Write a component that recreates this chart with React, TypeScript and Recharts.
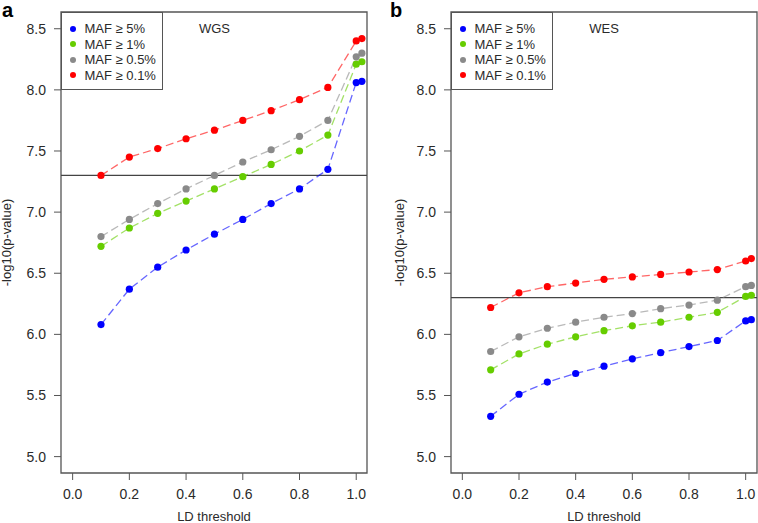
import React from 'react';
import { LineChart, Line, XAxis, YAxis, ReferenceLine, ReferenceArea, ReferenceDot, Legend, Label } from 'recharts';

const ldThreshold = [0.1, 0.2, 0.3, 0.4, 0.5, 0.6, 0.7, 0.8, 0.9, 1.0, 1.02];

const wgsMaf5 = [6.08, 6.37, 6.55, 6.69, 6.82, 6.94, 7.07, 7.19, 7.35, 8.06, 8.07];
const wgsMaf1 = [6.72, 6.87, 6.99, 7.09, 7.19, 7.29, 7.39, 7.5, 7.63, 8.21, 8.23];
const wgsMaf05 = [6.8, 6.94, 7.07, 7.19, 7.3, 7.41, 7.51, 7.62, 7.75, 8.27, 8.3];
const wgsMaf01 = [7.3, 7.45, 7.52, 7.6, 7.67, 7.75, 7.83, 7.92, 8.02, 8.4, 8.42];

const wesMaf5 = [5.33, 5.51, 5.61, 5.68, 5.74, 5.8, 5.85, 5.9, 5.95, 6.11, 6.12];
const wesMaf1 = [5.71, 5.84, 5.92, 5.98, 6.03, 6.07, 6.1, 6.14, 6.18, 6.31, 6.32];
const wesMaf05 = [5.86, 5.98, 6.05, 6.1, 6.14, 6.17, 6.21, 6.24, 6.28, 6.39, 6.4];
const wesMaf01 = [6.22, 6.34, 6.39, 6.42, 6.45, 6.47, 6.49, 6.51, 6.53, 6.6, 6.62];

const seriesKeys = ['maf5', 'maf1', 'maf05', 'maf01'];
const seriesNames = ['MAF ≥ 5%', 'MAF ≥ 1%', 'MAF ≥ 0.5%', 'MAF ≥ 0.1%'];
const seriesColors = ['#0000ff', '#66cd00', '#8a8a8a', '#ff0000'];

const xTicks = [0, 0.2, 0.4, 0.6, 0.8, 1.0];
const yTicks = [5, 5.5, 6, 6.5, 7, 7.5, 8, 8.5];

const panelLetters = ['a', 'b'];
const panelTitles = ['WGS', 'WES'];
const thresholds = [7.3, 6.3];
const xLabel = 'LD threshold';
const yLabel = '-log10(p-value)';

const FONT = '"Liberation Sans", Arial, Helvetica, sans-serif';
const TEXT = '#2a2a2a';
const AXIS = '#555';

const yDomain = [4.866, 8.637];

function buildRows(a: number[], b: number[], c: number[], d: number[]) {
  return ldThreshold.map((x, i) => ({ x, maf5: a[i], maf1: b[i], maf05: c[i], maf01: d[i] }));
}

const wgsRows = buildRows(wgsMaf5, wgsMaf1, wgsMaf05, wgsMaf01);
const wesRows = buildRows(wesMaf5, wesMaf1, wesMaf05, wesMaf01);

const LegendBox = () => (
  <div
    style={{
      border: `1px solid ${AXIS}`,
      background: '#fff',
      width: 102,
      height: 78,
      boxSizing: 'border-box',
      paddingTop: 8,
      fontFamily: FONT,
      fontSize: 13,
      color: TEXT,
    }}
  >
    {seriesNames.map((n, i) => (
      <div key={n} style={{ display: 'flex', alignItems: 'center', height: 15.5, whiteSpace: 'nowrap' }}>
        <span
          style={{
            display: 'inline-block',
            width: 6,
            height: 6,
            borderRadius: 3,
            background: seriesColors[i],
            marginLeft: 8,
            marginRight: 8.5,
          }}
        />
        <span>{n}</span>
      </div>
    ))}
  </div>
);

type PanelProps = {
  rows: any[];
  width: number;
  yAxisWidth: number;
  marginRight: number;
  xDomain: number[];
  title: string;
  threshold: number;
  yLabelX: number;
};

function Panel({ rows, width, yAxisWidth, marginRight, xDomain, title, threshold, yLabelX }: PanelProps) {
  return (
    <LineChart
      width={width}
      height={523}
      data={rows}
      margin={{ top: 12, right: marginRight, bottom: 0, left: 0 }}
    >
      <XAxis
        type="number"
        dataKey="x"
        domain={xDomain}
        ticks={xTicks}
        allowDataOverflow
        axisLine={false}
        tickSize={7}
        tickMargin={9}
        height={50}
        stroke={AXIS}
        tick={{ fill: TEXT, fontSize: 14, fontFamily: FONT }}
        tickFormatter={(v: number) => v.toFixed(1)}
        interval={0}
      >
        <Label
          content={(p: any) => {
            const vb = p.viewBox || {};
            return (
              <text x={vb.x + vb.width / 2} y={521} textAnchor="middle" fontSize={13} fontFamily={FONT} fill={TEXT}>
                {xLabel}
              </text>
            );
          }}
        />
      </XAxis>
      <YAxis
        type="number"
        domain={yDomain}
        ticks={yTicks}
        allowDataOverflow
        axisLine={false}
        width={yAxisWidth}
        tickSize={7}
        tickMargin={8}
        stroke={AXIS}
        tick={{ fill: TEXT, fontSize: 14, fontFamily: FONT }}
        tickFormatter={(v: number) => v.toFixed(1)}
        interval={0}
      >
        <Label
          content={(p: any) => {
            const vb = p.viewBox || {};
            const cy = vb.y + vb.height / 2;
            return (
              <text
                x={yLabelX}
                y={cy}
                transform={`rotate(-90, ${yLabelX}, ${cy})`}
                textAnchor="middle"
                dominantBaseline="central"
                fontSize={13}
                fontFamily={FONT}
                fill={TEXT}
              >
                {yLabel}
              </text>
            );
          }}
        />
      </YAxis>
      <ReferenceLine y={threshold} stroke="#444" strokeWidth={1.2} ifOverflow="visible" />
      {seriesKeys.map((k, i) => (
        <Line
          key={k}
          type="linear"
          dataKey={k}
          name={seriesNames[i]}
          stroke={seriesColors[i]}
          strokeOpacity={0.6}
          strokeWidth={1.3}
          strokeDasharray="8 4"
          dot={{ r: 3.6, fill: seriesColors[i], stroke: 'none', fillOpacity: 1 }}
          activeDot={false}
          isAnimationActive={false}
        />
      ))}
      <ReferenceArea
        x1={xDomain[0]}
        x2={xDomain[1]}
        y1={yDomain[0]}
        y2={yDomain[1]}
        fill="none"
        fillOpacity={0}
        stroke={AXIS}
        strokeWidth={1.3}
        ifOverflow="visible"
      />
      <ReferenceDot
        x={0.5}
        y={8.5}
        r={0}
        fill="none"
        stroke="none"
        ifOverflow="visible"
        label={{ value: title, position: 'center', fill: TEXT, fontSize: 13, fontFamily: FONT }}
      />
      <Legend
        layout="vertical"
        align="center"
        verticalAlign="middle"
        content={() => <LegendBox />}
        wrapperStyle={{ position: 'absolute', top: 12, left: yAxisWidth, width: 102, height: 78 }}
      />
    </LineChart>
  );
}

export default function App() {
  return (
    <div
      style={{
        position: 'fixed',
        left: 0,
        top: 0,
        width: 758,
        height: 523,
        background: '#fff',
        overflow: 'hidden',
      }}
    >
      <div style={{ position: 'absolute', left: 0, top: 0 }}>
        <Panel
          rows={wgsRows}
          width={380}
          yAxisWidth={61}
          marginRight={13}
          xDomain={[-0.041, 1.038]}
          title={panelTitles[0]}
          threshold={thresholds[0]}
          yLabelX={6}
        />
      </div>
      <div style={{ position: 'absolute', left: 380, top: 0 }}>
        <Panel
          rows={wesRows}
          width={378}
          yAxisWidth={71}
          marginRight={1}
          xDomain={[-0.04, 1.04]}
          title={panelTitles[1]}
          threshold={thresholds[1]}
          yLabelX={19}
        />
      </div>
      <div
        style={{
          position: 'absolute',
          left: 2,
          top: 0,
          fontFamily: FONT,
          fontWeight: 'bold',
          fontSize: 20,
          lineHeight: '20px',
          color: '#000',
        }}
      >
        {panelLetters[0]}
      </div>
      <div
        style={{
          position: 'absolute',
          left: 390,
          top: 0,
          fontFamily: FONT,
          fontWeight: 'bold',
          fontSize: 20,
          lineHeight: '20px',
          color: '#000',
        }}
      >
        {panelLetters[1]}
      </div>
    </div>
  );
}
